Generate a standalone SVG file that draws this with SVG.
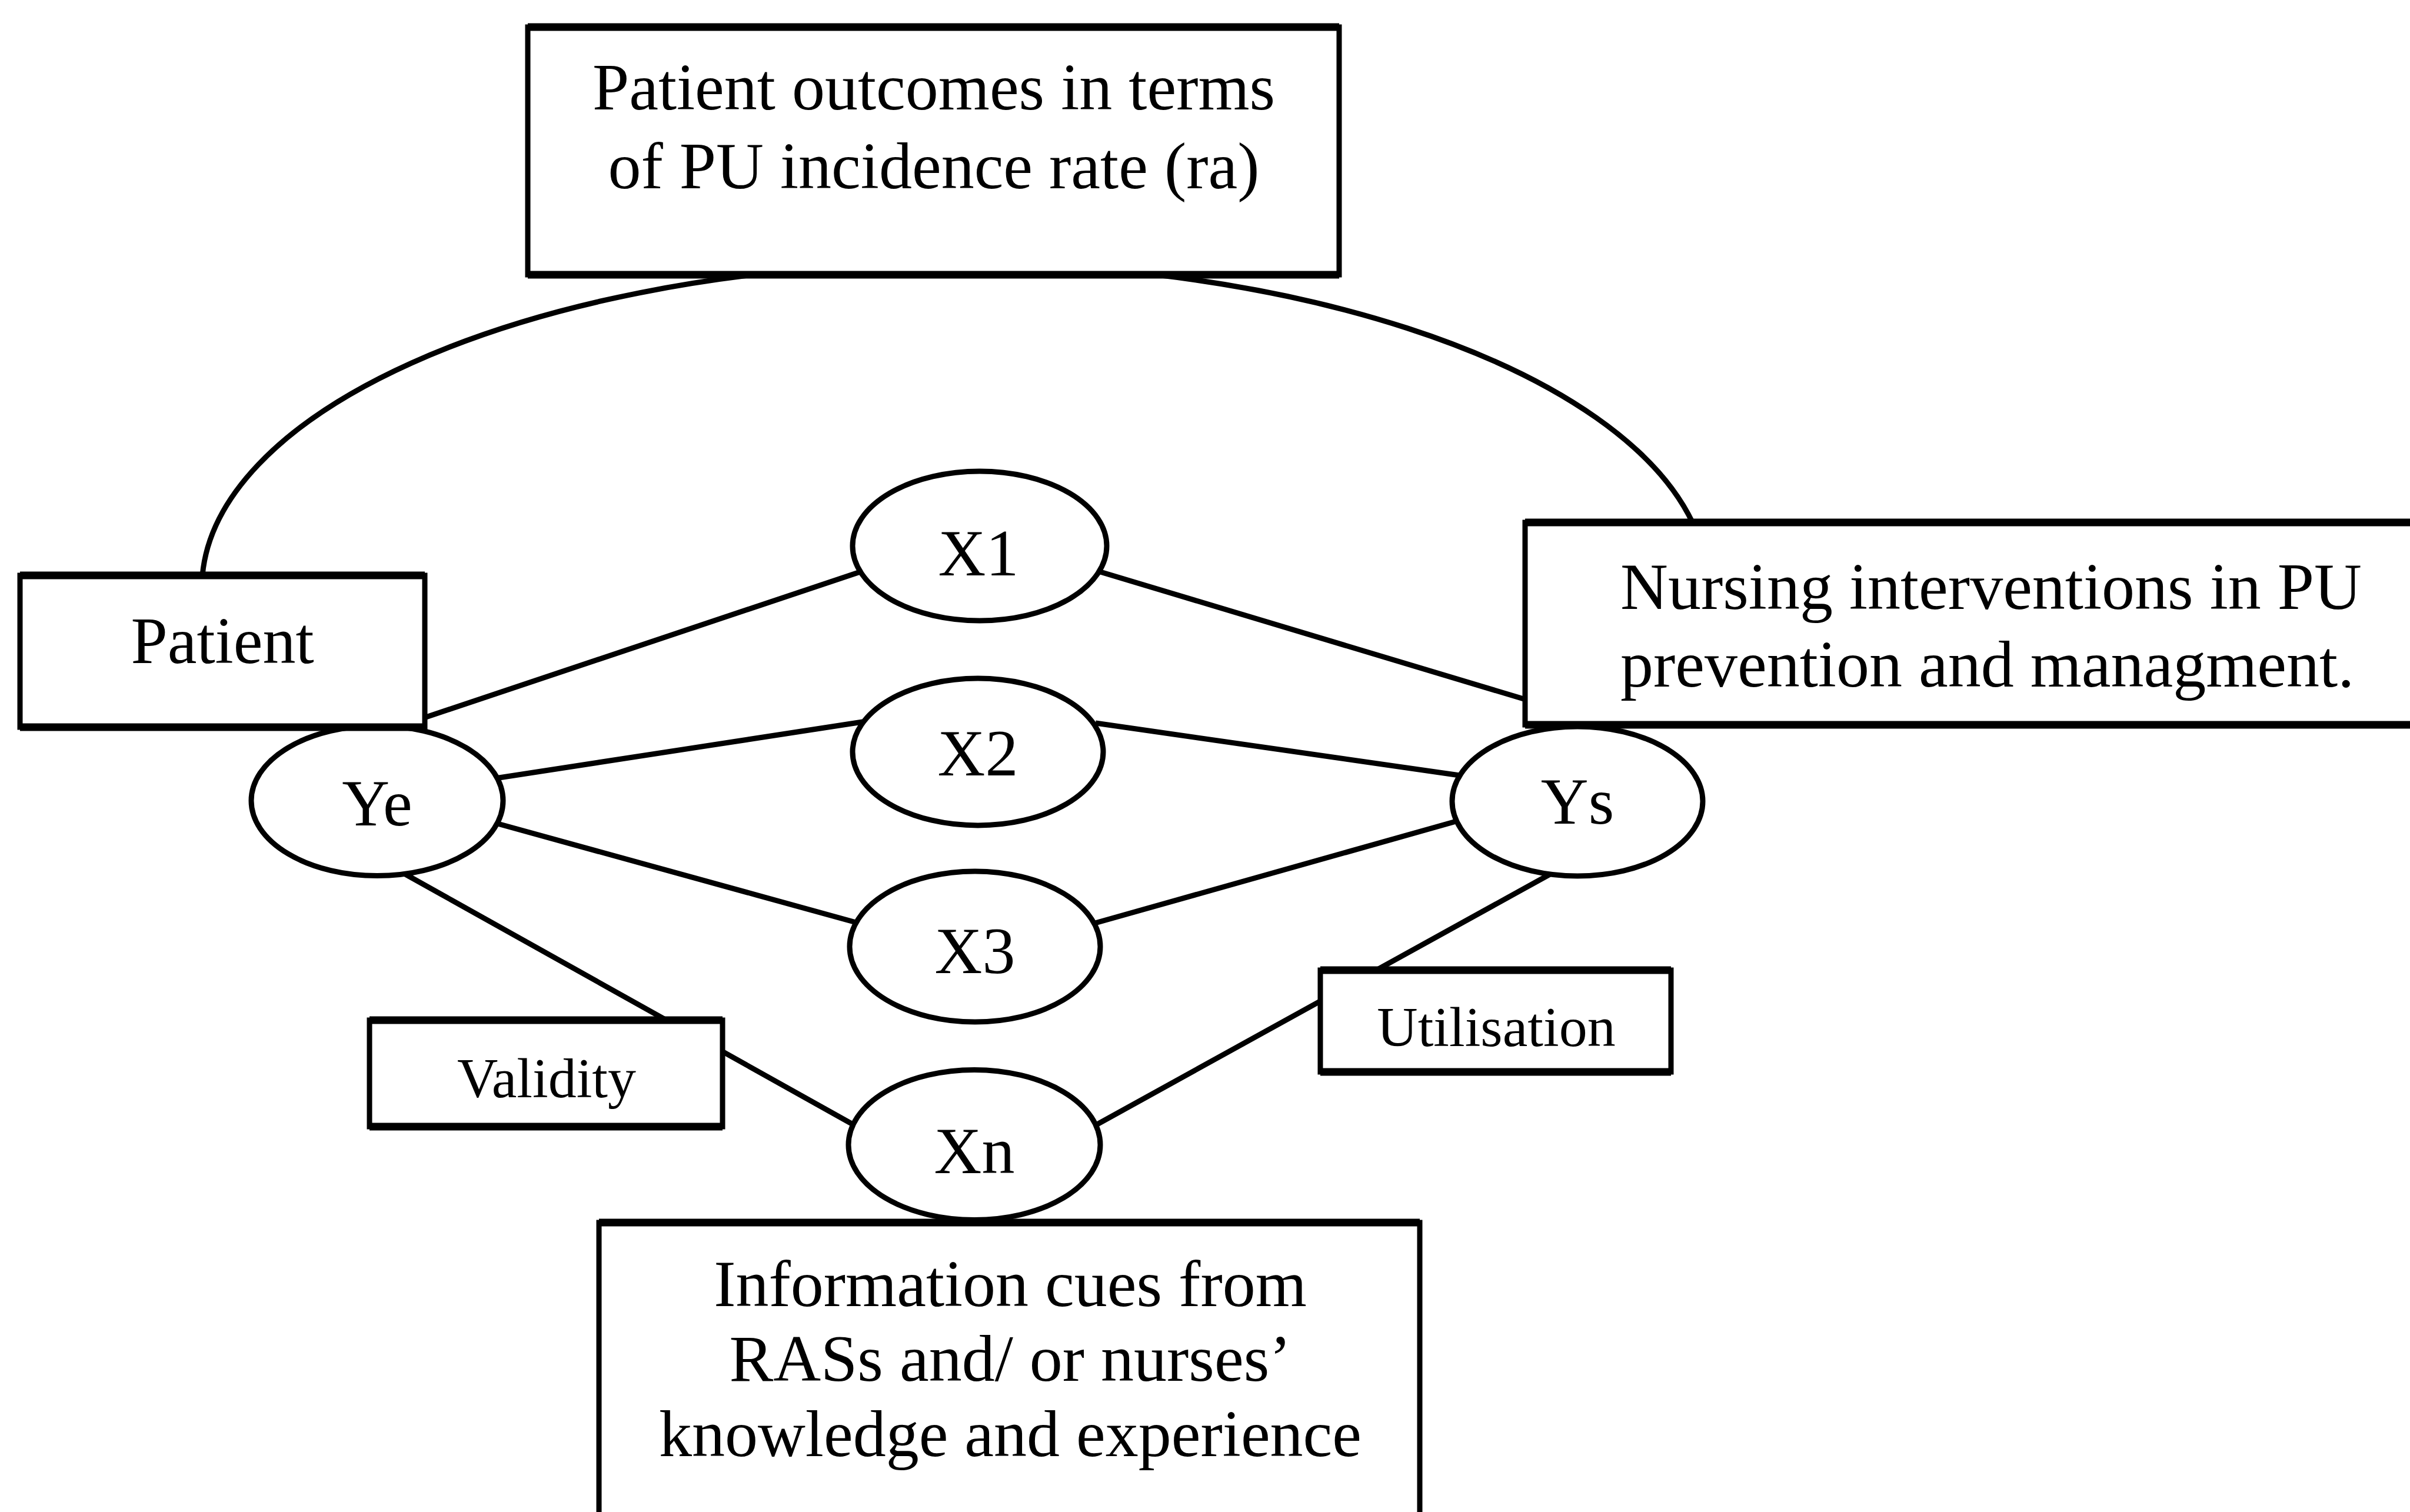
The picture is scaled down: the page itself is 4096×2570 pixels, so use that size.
<svg xmlns="http://www.w3.org/2000/svg" width="4096" height="2570" viewBox="0 0 4096 2570">
<style>
.box{fill:#fff;stroke:#000;stroke-width:9}
.hb{stroke:#000;stroke-width:13;fill:none}
.node{fill:#fff;stroke:#000;stroke-width:9}
.conn{stroke:#000;stroke-width:9;fill:none}
text{font-family:"Liberation Serif","Times New Roman",serif;fill:#000}
.big{font-size:112px}
.small{font-size:96px}
.mid{text-anchor:middle}
</style>
<rect width="4096" height="2570" fill="#fff"/>
<g id="connectors">
 <path class="conn" d="M 344 978 A 1280 553 0 0 1 2877 889"/>
 <line class="conn" x1="700" y1="1227" x2="1468" y2="970"/>
 <line class="conn" x1="1860" y1="969" x2="2603" y2="1192"/>
 <line class="conn" x1="835" y1="1324" x2="1466" y2="1227"/>
 <line class="conn" x1="1862" y1="1229" x2="2488" y2="1319"/>
 <line class="conn" x1="835" y1="1397" x2="1466" y2="1571"/>
 <line class="conn" x1="1854" y1="1571" x2="2489" y2="1392"/>
 <line class="conn" x1="680" y1="1481" x2="1460" y2="1917"/>
 <line class="conn" x1="2647" y1="1479" x2="1854" y2="1917"/>
</g>
<g id="node-ye">
 <ellipse class="node" cx="641" cy="1361" rx="214" ry="127.5"/>
 <text class="big mid" x="641" y="1403">Ye</text>
</g>
<g id="node-ys">
 <ellipse class="node" cx="2681" cy="1362" rx="213" ry="127"/>
 <text class="big mid" x="2681" y="1400">Ys</text>
</g>
<g id="node-x1">
 <ellipse class="node" cx="1665" cy="928" rx="216" ry="127"/>
 <text class="big mid" x="1663" y="978">X1</text>
</g>
<g id="node-x2">
 <ellipse class="node" cx="1662" cy="1278" rx="213" ry="125"/>
 <text class="big mid" x="1662" y="1318">X2</text>
</g>
<g id="node-x3">
 <ellipse class="node" cx="1657" cy="1609" rx="213" ry="128"/>
 <text class="big mid" x="1657" y="1654">X3</text>
</g>
<g id="node-xn">
 <ellipse class="node" cx="1656" cy="1946" rx="214" ry="127.5"/>
 <text class="big mid" x="1656" y="1994">Xn</text>
</g>
<g id="node-outcomes">
 <rect class="box" x="897" y="46" width="1379" height="421"/>
 <path class="hb" d="M 897 46 H 2276 M 897 467 H 2276"/>
 <text class="big mid" x="1587" y="186">Patient outcomes in terms</text>
 <text class="big mid" x="1587" y="320">of PU incidence rate (ra)</text>
</g>
<g id="node-patient">
 <rect class="box" x="34" y="978" width="688" height="258"/>
 <path class="hb" d="M 34 978 H 722 M 34 1236 H 722"/>
 <text class="big mid" x="378" y="1127">Patient</text>
</g>
<g id="node-nursing">
 <rect class="box" x="2592" y="888" width="1540" height="344"/>
 <path class="hb" d="M 2592 888 H 4110 M 2592 1232 H 4110"/>
 <text class="big" x="2754" y="1035">Nursing interventions in PU</text>
 <text class="big" x="2754" y="1167">prevention and managment.</text>
</g>
<g id="node-validity">
 <rect class="box" x="628" y="1734" width="600" height="181"/>
 <path class="hb" d="M 628 1734 H 1228 M 628 1915 H 1228"/>
 <text class="small mid" x="929" y="1865">Validity</text>
</g>
<g id="node-utilisation">
 <rect class="box" x="2244" y="1649" width="596" height="173"/>
 <path class="hb" d="M 2244 1649 H 2840 M 2244 1822 H 2840"/>
 <text class="small mid" x="2543" y="1778">Utilisation</text>
</g>
<g id="node-information">
 <rect class="box" x="1018" y="2078" width="1395" height="510"/>
 <path class="hb" d="M 1018 2078 H 2413"/>
 <text class="big mid" x="1717" y="2220">Information cues from</text>
 <text class="big mid" x="1717" y="2347">RASs and/ or nurses’</text>
 <text class="big mid" x="1717" y="2475">knowledge and experience</text>
</g>
</svg>
